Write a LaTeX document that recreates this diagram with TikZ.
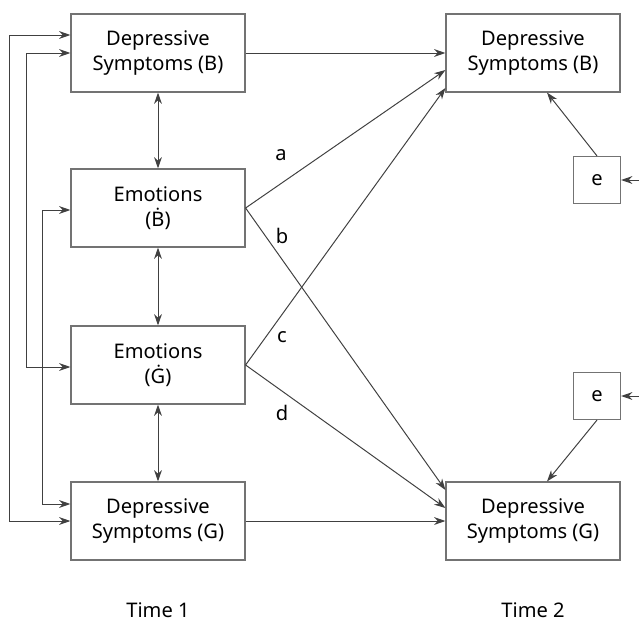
\documentclass[tikz,border=0pt]{standalone}
\usepackage{fontspec}
\setmainfont{Noto Sans}
\usetikzlibrary{arrows.meta}

\tikzset{
  box/.style={draw=black!55, line width=0.8pt, minimum width=4.35cm, minimum height=1.95cm,
    align=center, inner sep=0pt, font=\fontsize{14.3}{18}\selectfont},
  ebox/.style={draw=black!55, line width=0.8pt, minimum size=1.175cm, inner sep=0pt,
    font=\fontsize{14.3}{18}\selectfont},
  lab/.style={font=\fontsize{14.3}{18}\selectfont},
  arr/.style={draw=black!75, line width=0.7pt, -{Stealth[length=8pt,width=5.5pt,inset=2.5pt]}},
  dbl/.style={draw=black!75, line width=0.7pt, {Stealth[length=8pt,width=5.5pt,inset=2.5pt]}-{Stealth[length=8pt,width=5.5pt,inset=2.5pt]}},
}

\begin{document}
\begin{tikzpicture}[x=0.025cm,y=-0.025cm]
        \useasboundingbox (0,0) rectangle (639,625);
        % time 1
        \node[box] (depB1) at (158,53) {Depressive\\Symptoms (B)};
        \node[box] (emoB1) at (158,208) {Emotions\\(Ḃ)};
        \node[box] (emoG1) at (158,365) {Emotions\\(Ġ)};
        \node[box] (depG1) at (158,521) {Depressive\\Symptoms (G)};
        % time 2
        \node[box] (depB2) at (533,53) {Depressive\\Symptoms (B)};
        \node[box] (depG2) at (533,521) {Depressive\\Symptoms (G)};
        \node[ebox] (eB) at (597,180) {e};
        \node[ebox] (eG) at (597,396) {e};
        \coordinate (inB) at (639,180);
        \coordinate (inG) at (639,396);
        \node[lab] (Ta) at (158,610) {Time 1};
        \node[lab] (Tb) at (533,610) {Time 2};
        % path labels
        \node[lab] (a) at (281,155) {a};
        \node[lab] (b) at (282,236) {b};
        \node[lab] (c) at (282,337) {c};
        \node[lab] (d) at (282,413) {d};
        \draw [dbl] (depB1) -- (emoB1);
        \draw [dbl] (emoB1) -- (emoG1);
        \draw [dbl] (emoG1) -- (depG1);
        \draw [dbl] ([yshift=0.45cm]depB1.west) -- ++(-61,0) |- (depG1.west);
        \draw [dbl] (depB1.west) -- ++(-44,0) |- ([yshift=-0.05cm]emoG1.west);
        \draw [dbl] ([yshift=-0.05cm]emoB1.west) -- ++(-28,0) |- ([yshift=0.425cm]depG1.west);
        \draw [arr] (depB1) -- (depB2);
        \draw [arr] (depG1) -- (depG2);
        \draw [arr] (emoB1.east) -- ([yshift=-0.425cm]depB2.west);
        \draw [arr] (emoB1.east) -- ([yshift=0.775cm]depG2.west);
        \draw [arr] (emoG1.east) -- ([yshift=-0.875cm]depB2.west);
        \draw [arr] (emoG1.east) -- ([yshift=0.325cm]depG2.west);
        \draw [arr] (eB.north) -- ([xshift=0.35cm]depB2.south);
        \draw [arr] (eG.south) -- ([xshift=0.35cm]depG2.north);
        \draw [arr] (inB) -- (eB);
        \draw [arr] (inG) -- (eG);
\end{tikzpicture}
\end{document}
